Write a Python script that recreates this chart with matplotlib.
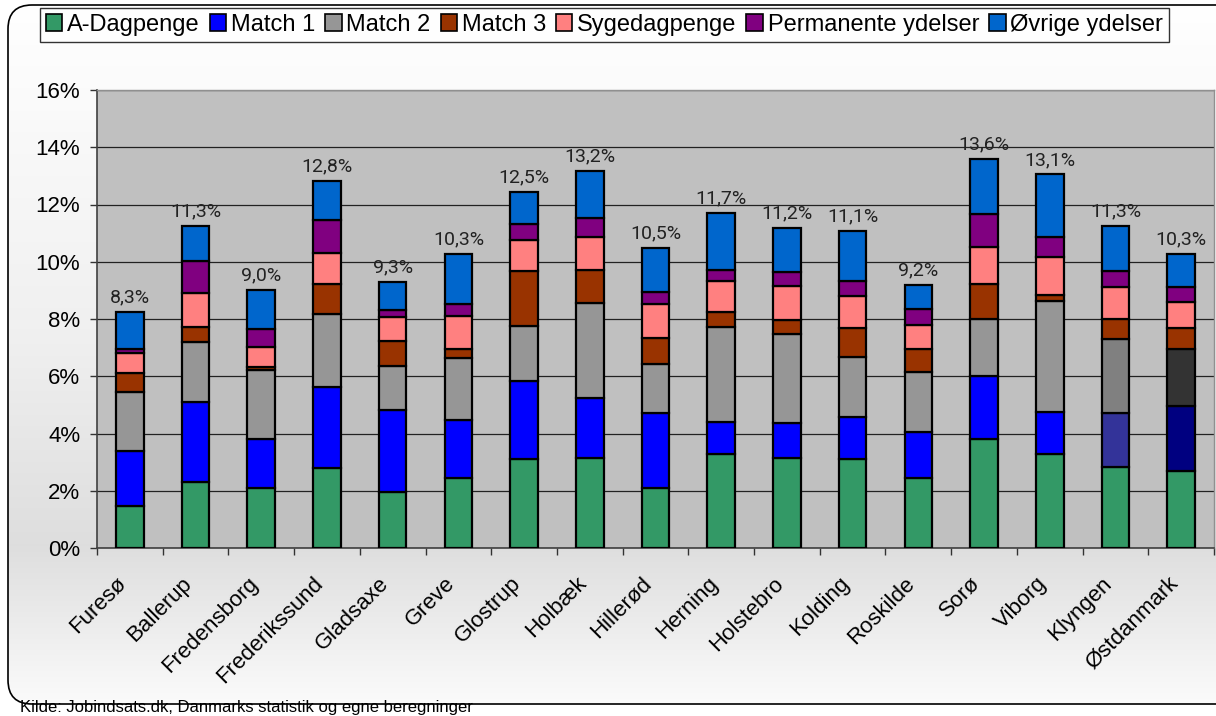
import numpy as np
import matplotlib
matplotlib.use("Agg")
import matplotlib.pyplot as plt
from matplotlib.patches import Patch, FancyBboxPatch
from matplotlib.ticker import FuncFormatter, FixedLocator
import matplotlib.transforms as mtrans

plt.rcParams['font.family'] = ['Liberation Sans', 'DejaVu Sans']

categories = ["Furesø", "Ballerup", "Fredensborg", "Frederikssund", "Gladsaxe", "Greve",
              "Glostrup", "Holbæk", "Hillerød", "Herning", "Holstebro", "Kolding",
              "Roskilde", "Sorø", "Viborg", "Klyngen", "Østdanmark"]

a_dagpenge = [1.45, 2.32, 2.11, 2.81, 1.94, 2.46, 3.11, 3.15, 2.09, 3.27, 3.15, 3.11, 2.43, 3.81, 3.28, 2.82, 2.69]
match1 = [1.95, 2.79, 1.70, 2.80, 2.88, 2.01, 2.72, 2.10, 2.64, 1.12, 1.23, 1.48, 1.63, 2.21, 1.48, 1.91, 2.27]
match2 = [2.05, 2.08, 2.41, 2.55, 1.55, 2.16, 1.94, 3.30, 1.69, 3.32, 3.08, 2.09, 2.10, 1.97, 3.88, 2.56, 1.98]
match3 = [0.68, 0.54, 0.09, 1.05, 0.86, 0.32, 1.92, 1.16, 0.93, 0.55, 0.51, 1.02, 0.79, 1.23, 0.20, 0.71, 0.74]
sygedagpenge = [0.68, 1.19, 0.72, 1.08, 0.85, 1.17, 1.07, 1.17, 1.16, 1.07, 1.19, 1.11, 0.84, 1.28, 1.34, 1.13, 0.93]
permanente = [0.15, 1.11, 0.62, 1.17, 0.23, 0.39, 0.56, 0.64, 0.42, 0.38, 0.49, 0.53, 0.55, 1.17, 0.67, 0.56, 0.52]
ovrige = [1.30, 1.22, 1.36, 1.36, 0.99, 1.75, 1.13, 1.66, 1.54, 2.00, 1.54, 1.73, 0.85, 1.92, 2.20, 1.56, 1.13]
totals = [8.3, 11.3, 9.0, 12.8, 9.3, 10.3, 12.5, 13.2, 10.5, 11.7, 11.2, 11.1, 9.2, 13.6, 13.1, 11.3, 10.3]

series_names = ["A-Dagpenge", "Match 1", "Match 2", "Match 3", "Sygedagpenge",
                "Permanente ydelser", "Øvrige ydelser"]
series_vals = [a_dagpenge, match1, match2, match3, sygedagpenge, permanente, ovrige]
series_colors = ["#339966", "#0000FF", "#969696", "#993300", "#FF8080", "#800080", "#0066CC"]
# special colours for the aggregate bars
override = {("Match 1", "Klyngen"): "#333399", ("Match 2", "Klyngen"): "#808080",
            ("Match 1", "Østdanmark"): "#000080", ("Match 2", "Østdanmark"): "#333333"}

W, H = 1216, 716
fig = plt.figure(figsize=(W / 100, H / 100), dpi=100)
fig.patch.set_facecolor("white")

# background with rounded border and gradient
bg = fig.add_axes([0, 0, 1, 1], zorder=-10)
bg.set_xlim(0, W)
bg.set_ylim(0, H)
bg.axis("off")
ys = np.array([0, 10, 170, 380, 716])
vs = np.array([0.98, 0.985, 0.87, 0.94, 1.0])
yy = np.linspace(0, H, 400)
g = np.interp(yy, ys, vs)
img = np.repeat(g[:, None], 2, axis=1)
img = np.dstack([img, img, img])
border = FancyBboxPatch((8, 12), 1240, 699, boxstyle="round,pad=0,rounding_size=24",
                        facecolor="none", edgecolor="black", linewidth=1.2, zorder=2)
bg.add_patch(border)
im = bg.imshow(img, extent=(0, W, 0, H), origin="lower", aspect="auto", zorder=1)
im.set_clip_path(border)

ax = fig.add_axes([97 / W, 1 - 548 / H, (1214 - 97) / W, (548 - 90) / H], zorder=1)
ax.set_facecolor("#C0C0C0")
x = np.arange(len(categories))
bottom = np.zeros(len(categories))
for name, vals, col in zip(series_names, series_vals, series_colors):
    cols = [override.get((name, c), col) for c in categories]
    ax.bar(x, vals, width=0.42, bottom=bottom, color=cols, edgecolor="black",
           linewidth=1.6, zorder=3)
    bottom += np.array(vals)

for xi, top, t in zip(x, bottom, totals):
    ax.annotate(f"{t:.1f}%".replace(".", ","), (xi, top), xytext=(0, 4),
                textcoords="offset points", ha="center", va="bottom",
                fontsize=14, family=['Roboto', 'DejaVu Sans'], color="#222222", zorder=4)

ax.set_xlim(-0.5, len(categories) - 0.5)
ax.set_ylim(0, 16)
ax.yaxis.set_major_locator(FixedLocator(np.arange(0, 17, 2)))
ax.yaxis.set_major_formatter(FuncFormatter(lambda v, p: f"{int(v)}%"))
ax.grid(axis="y", color="#222222", linewidth=0.9, zorder=1)
ax.set_axisbelow(True)
ax.tick_params(axis="y", length=5, width=1, pad=7, labelsize=16, color="#333333")

ax.set_xticks(x)
ax.set_xticklabels(categories, rotation=45, ha="right", rotation_mode="anchor", fontsize=16)
ax.tick_params(axis="x", which="major", length=0, pad=18)
ax.set_xticks(np.arange(-0.5, len(categories), 1), minor=True)
ax.tick_params(axis="x", which="minor", length=5, width=1, color="#333333")
off = mtrans.ScaledTranslation(-14 / 100, 0, fig.dpi_scale_trans)
for lab in ax.get_xticklabels():
    lab.set_transform(lab.get_transform() + off)

for s in ["left", "bottom"]:
    ax.spines[s].set_color("#404040")
    ax.spines[s].set_linewidth(1.2)
for s in ["top", "right"]:
    ax.spines[s].set_color("#909090")
    ax.spines[s].set_linewidth(1.0)

handles = [Patch(facecolor=c, edgecolor="black", linewidth=1.2) for c in series_colors]
leg = fig.legend(handles, series_names, loc="upper left", bbox_to_anchor=(40 / W, 1 - 8 / H),
                 ncol=7, fontsize=17, frameon=True, fancybox=False, edgecolor="black",
                 handlelength=0.7, handleheight=0.7, handletextpad=0.2,
                 columnspacing=0.42, borderpad=0.25, borderaxespad=0)
leg.get_frame().set_linewidth(1.0)

fig.text(20 / W, 4 / H, "Kilde: Jobindsats.dk, Danmarks statistik og egne beregninger",
         fontsize=12, ha="left", va="baseline")

fig.savefig("out.png", dpi=100)
